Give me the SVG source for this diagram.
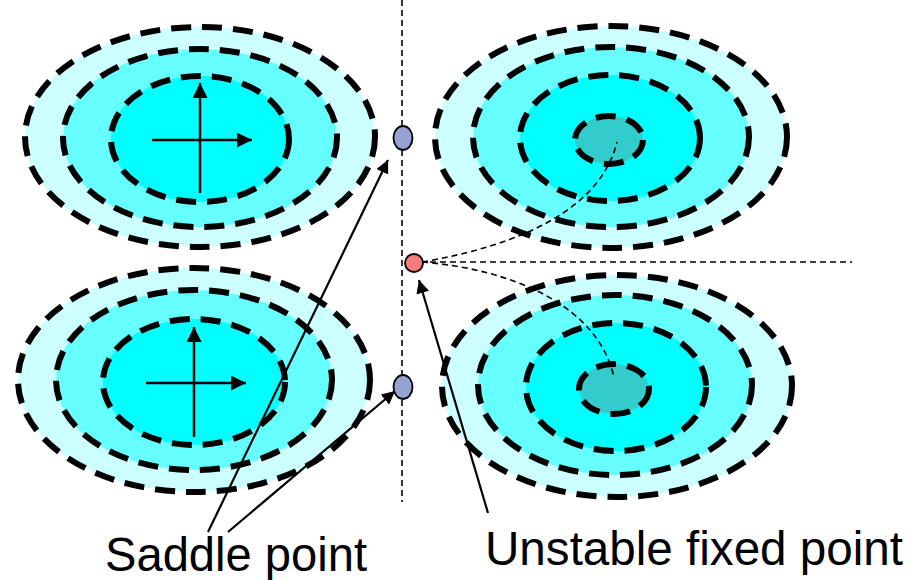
<svg xmlns="http://www.w3.org/2000/svg" width="912" height="580" viewBox="0 0 912 580">
<defs>
<marker id="ah" viewBox="0 0 10 10" refX="10" refY="5" markerWidth="6" markerHeight="6" markerUnits="strokeWidth" orient="auto">
<path d="M0,0 L10,5 L0,10 z" fill="#000"/>
</marker>
<style>
.c{stroke:#000;stroke-width:6;stroke-dasharray:20 11}
.l1{fill:#CCFFFF}.l2{fill:#66FFFF}.l3{fill:#00FFFF}.l4{fill:#33CCCC}
.ax{stroke:#000;stroke-width:2.5;fill:none;marker-end:url(#ah)}
.thin{stroke:#000;stroke-width:1.6;fill:none;stroke-dasharray:6 4}
.ptr{stroke:#000;stroke-width:2.2;fill:none;marker-end:url(#ah)}
.lbl{font-family:"Liberation Sans",Arial,sans-serif;font-size:48px;fill:#000}
</style>
</defs>
<rect width="912" height="580" fill="#fff"/>
<g id="guides">
<line x1="402" y1="0" x2="402" y2="502" class="thin" stroke-dasharray="6 5"/>
<line x1="420" y1="262" x2="852" y2="262" class="thin" stroke-dasharray="6 5"/>
</g>
<g id="well-top-left">
<ellipse cx="200" cy="137" rx="175" ry="110" class="c l1"/>
<ellipse cx="200" cy="138" rx="137" ry="89" class="c l2"/>
<ellipse cx="200" cy="139" rx="89" ry="63" class="c l3"/>
<line x1="200" y1="193" x2="200" y2="83" class="ax"/>
<line x1="152" y1="140" x2="252" y2="140" class="ax"/>
</g>
<g id="well-bottom-left">
<ellipse cx="194" cy="380" rx="176" ry="112" class="c l1"/>
<ellipse cx="194" cy="380" rx="138" ry="90" class="c l2"/>
<ellipse cx="194" cy="382" rx="91" ry="63" class="c l3"/>
<line x1="194" y1="437" x2="194" y2="327" class="ax"/>
<line x1="146" y1="383" x2="246" y2="383" class="ax"/>
</g>
<g id="well-top-right">
<ellipse cx="611" cy="137" rx="176" ry="111" class="c l1"/>
<ellipse cx="611" cy="137" rx="138" ry="90" class="c l2"/>
<ellipse cx="610" cy="138" rx="90" ry="63" class="c l3"/>
<ellipse cx="609" cy="140" rx="34" ry="24" class="c l4" stroke-dasharray="20 10"/>
</g>
<g id="well-bottom-right">
<ellipse cx="617" cy="386" rx="175" ry="111" class="c l1"/>
<ellipse cx="615" cy="385" rx="137" ry="90" class="c l2"/>
<ellipse cx="616" cy="387" rx="90" ry="64" class="c l3"/>
<ellipse cx="614" cy="389" rx="35" ry="25" class="c l4" stroke-dasharray="20 10"/>
</g>
<g id="connectors">
<path d="M422 262 C520 245 600 210 617 142" class="thin"/>
<path d="M422 262 C520 270 600 310 614 378" class="thin"/>
<line x1="208" y1="532" x2="388" y2="160" class="ptr"/>
<line x1="228" y1="532" x2="395" y2="391" class="ptr"/>
<line x1="488" y1="513" x2="419" y2="280" class="ptr"/>
</g>
<g id="saddle-top"><ellipse cx="403" cy="138" rx="9.5" ry="12" fill="#96A2D2" stroke="#000" stroke-width="1.8"/></g>
<g id="saddle-bottom"><ellipse cx="403" cy="387" rx="9.5" ry="12" fill="#96A2D2" stroke="#000" stroke-width="1.8"/></g>
<g id="unstable-point"><circle cx="414" cy="263" r="9" fill="#F87B7B" stroke="#000" stroke-width="1.8"/></g>
<g id="label-saddle"><text x="105" y="571" class="lbl" textLength="262" lengthAdjust="spacingAndGlyphs">Saddle point</text></g>
<g id="label-unstable"><text x="485" y="565" class="lbl" textLength="418" lengthAdjust="spacingAndGlyphs">Unstable fixed point</text></g>
</svg>
